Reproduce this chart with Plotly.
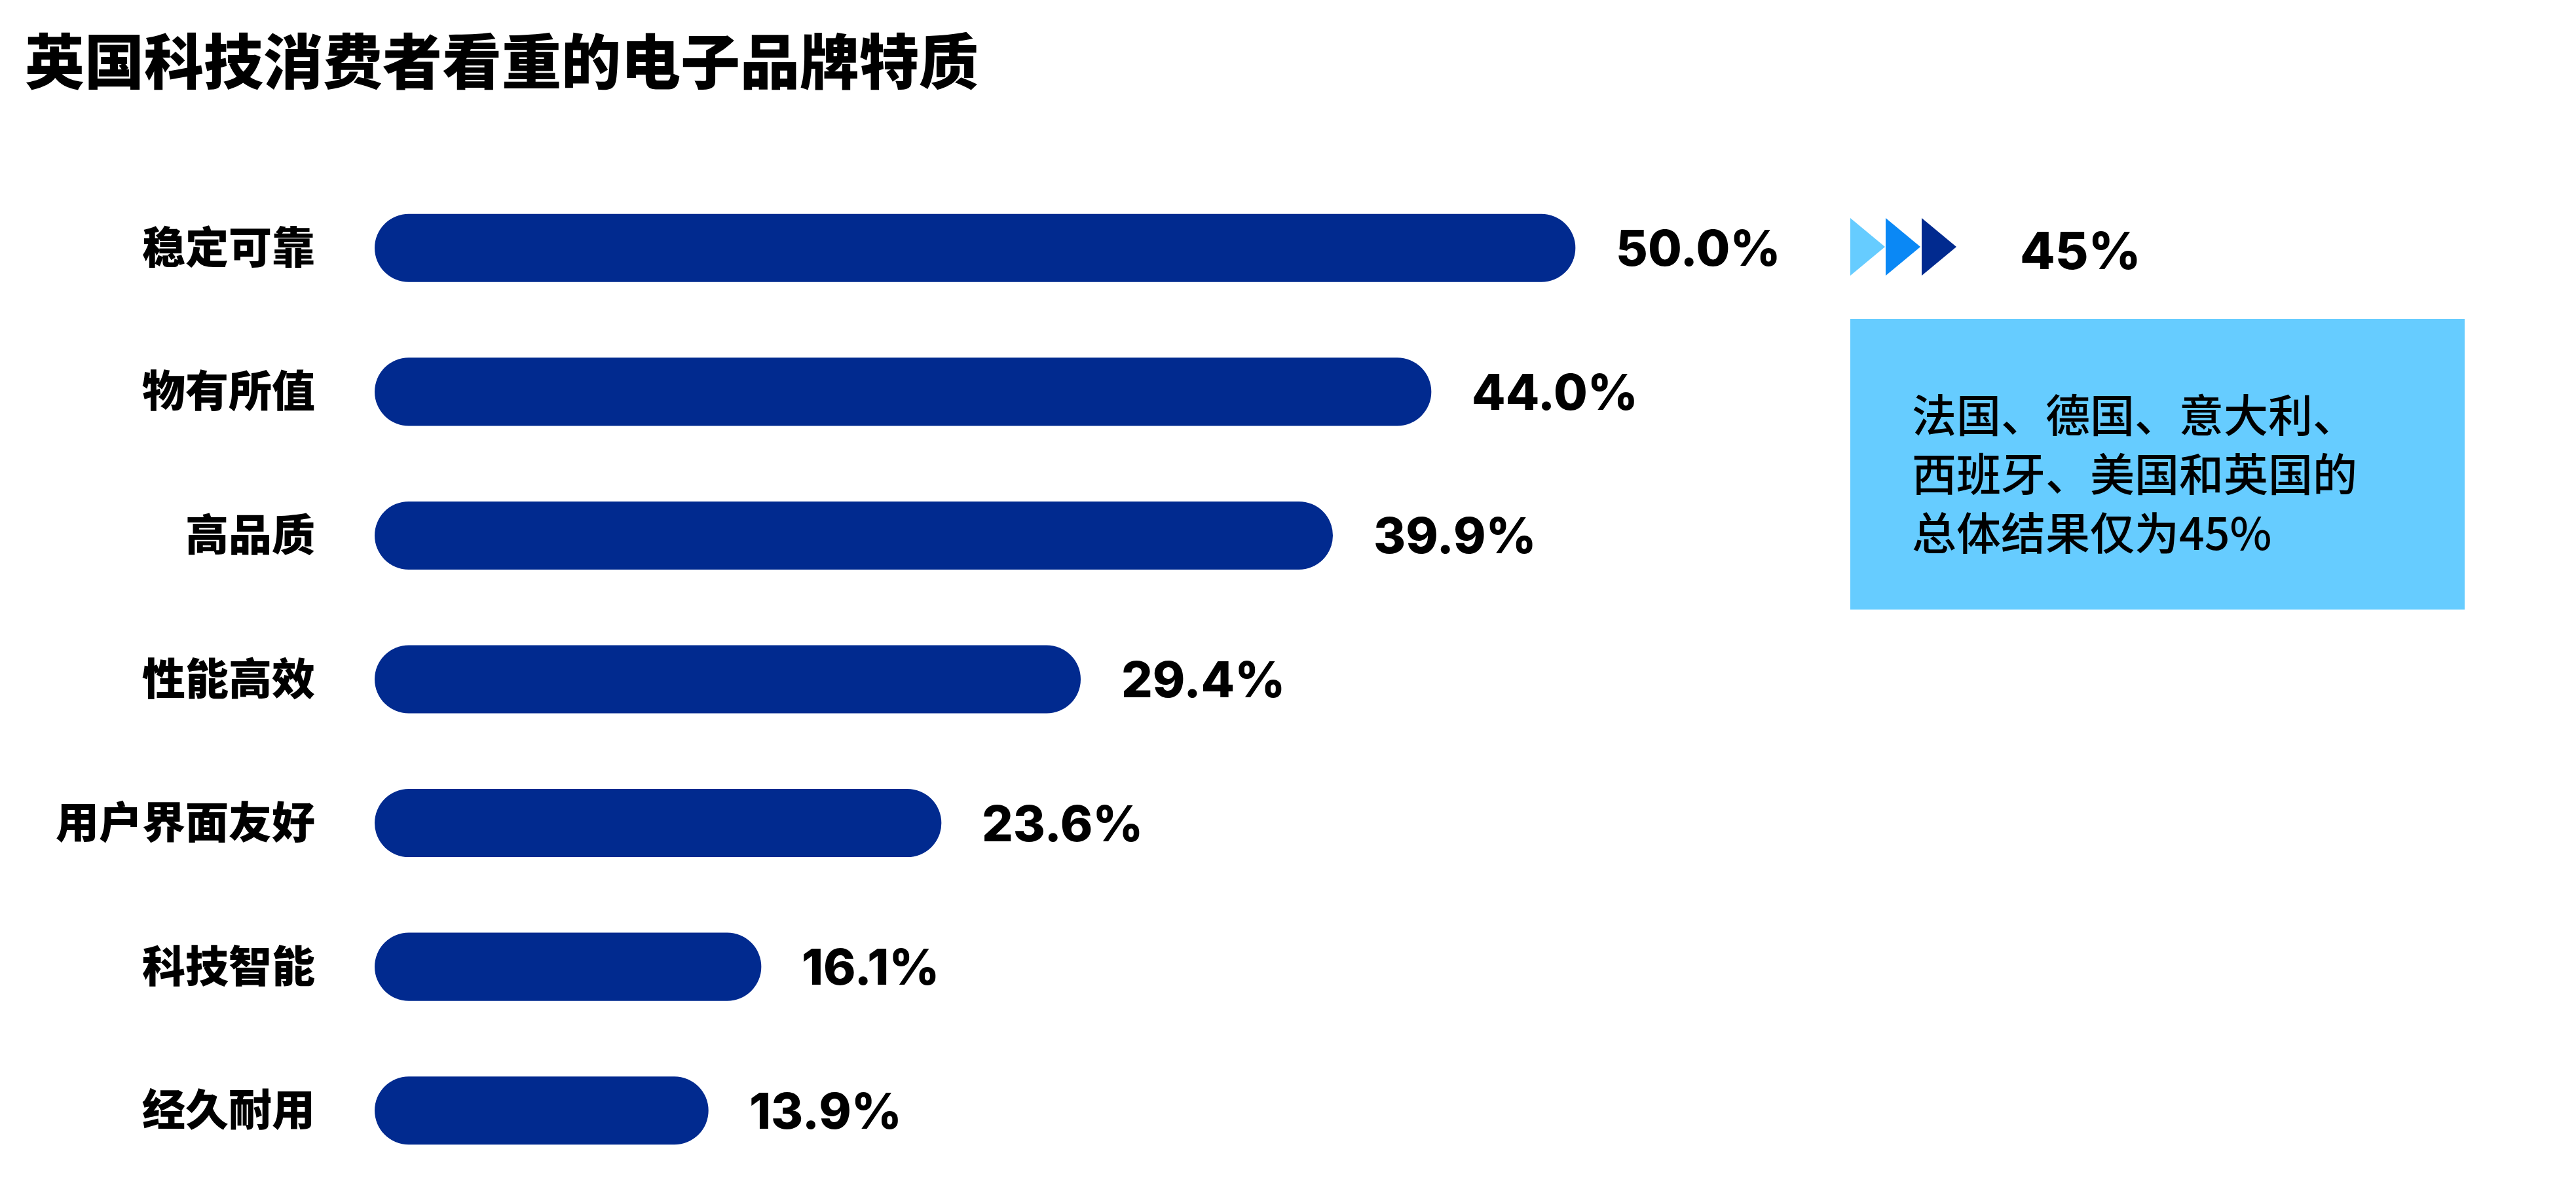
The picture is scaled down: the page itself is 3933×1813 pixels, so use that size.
import plotly.graph_objects as go

# ---- data ----
categories = ["稳定可靠", "物有所值", "高品质", "性能高效", "用户界面友好", "科技智能", "经久耐用"]
values = [50.0, 44.0, 39.9, 29.4, 23.6, 16.1, 13.9]
value_labels = ["50.0%", "44.0%", "39.9%", "29.4%", "23.6%", "16.1%", "13.9%"]
title_text = "英国科技消费者看重的电子品牌特质"
overall_label = "45%"
note_lines = ["法国、德国、意大利、", "西班牙、美国和英国的", "总体结果仅为45%"]

# ---- geometry ----
W, H = 3933, 1813
ML, MR, MT, MB = 572, 1161, 269, 7
PW = W - ML - MR
PH = H - MT - MB

def px(x):
    return (x - ML) / PW

def py(y):
    return (H - MB - y) / PH

BAR_COLOR = "#012A8F"
CJK = "Noto Sans CJK SC"
NUM = "Inter"
BAR_W = 0.474

fig = go.Figure()
# pill-shaped bars: with an explicit base, plotly rounds both ends
fig.add_trace(go.Bar(
    x=values, base=[0] * len(values), y=categories, orientation="h",
    marker=dict(color=BAR_COLOR, cornerradius="50%", line=dict(width=0)),
    width=BAR_W, hoverinfo="skip", showlegend=False,
))

annotations = []
for c, v, t in zip(categories, values, value_labels):
    annotations.append(dict(
        x=v, y=c, xref="x", yref="y", text=t, showarrow=False,
        xanchor="left", yanchor="middle", xshift=60,
        font=dict(family=NUM, size=75, color="#000000", weight=800),
    ))

# title
annotations.append(dict(
    x=px(36), y=py(88), xref="paper", yref="paper", text=title_text,
    showarrow=False, xanchor="left", yanchor="middle",
    font=dict(family=CJK, size=91, color="#000000", weight=900),
))
# 45% headline
annotations.append(dict(
    x=px(3082), y=py(382), xref="paper", yref="paper", text=overall_label,
    showarrow=False, xanchor="left", yanchor="middle",
    font=dict(family=NUM, size=78, color="#000000", weight=800),
))
# box text, one annotation per line
for i, line in enumerate(note_lines):
    annotations.append(dict(
        x=px(2918), y=py(630 + 90 * i), xref="paper", yref="paper", text=line,
        showarrow=False, xanchor="left", yanchor="middle", align="left",
        borderpad=0,
        font=dict(family=CJK, size=68, color="#000000", weight=500),
    ))

shapes = []
# info box
shapes.append(dict(type="rect", xref="paper", yref="paper",
                   x0=px(2825), x1=px(3763), y0=py(931), y1=py(487),
                   fillcolor="#66CCFF", line=dict(width=0), layer="below"))
# triangles
tri_colors = ["#66CCFF", "#0A88F5", "#012A8F"]
tri_x0 = [2825, 2879, 2934]
for x0, col in zip(tri_x0, tri_colors):
    x1 = x0 + 53
    path = "M {:.5f},{:.5f} L {:.5f},{:.5f} L {:.5f},{:.5f} Z".format(
        px(x0), py(333), px(x1), py(377), px(x0), py(421))
    shapes.append(dict(type="path", xref="paper", yref="paper", path=path,
                       fillcolor=col, line=dict(width=0)))

fig.update_layout(
    width=W, height=H,
    margin=dict(l=ML, r=MR, t=MT, b=MB, autoexpand=False),
    paper_bgcolor="#FFFFFF", plot_bgcolor="#FFFFFF",
    xaxis=dict(range=[0, 60], visible=False, fixedrange=True),
    yaxis=dict(
        categoryorder="array", categoryarray=categories,
        range=[6.5, -0.5], showgrid=False, zeroline=False, showline=False,
        ticks="", ticklabelstandoff=90,
        tickfont=dict(family=CJK, size=66, color="#000000", weight=900),
        fixedrange=True,
    ),
    annotations=annotations,
    shapes=shapes,
    showlegend=False,
)

fig.write_html("out.html")
